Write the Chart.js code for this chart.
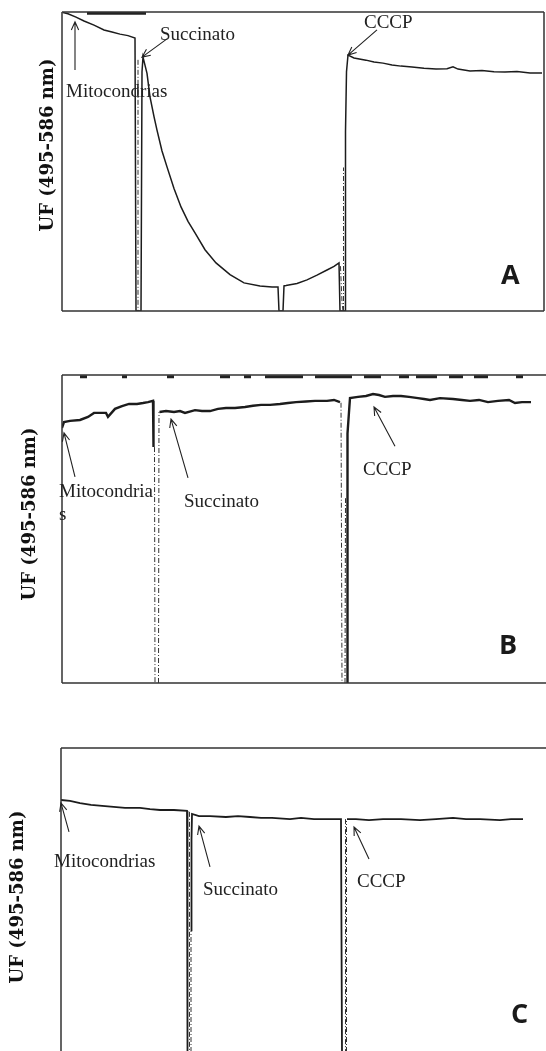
<!DOCTYPE html>
<html>
<head>
<meta charset="utf-8">
<script src="https://cdn.jsdelivr.net/npm/chart.js@4.4.0/dist/chart.umd.min.js"></script>
<style>
  html, body { margin: 0; padding: 0; background: #fff; overflow: hidden; }
  body { width: 546px; height: 1051px; position: relative; }
  canvas { position: absolute; left: 0; }
</style>
</head>
<body>
<canvas id="chartA" width="546" height="330" style="top:0"></canvas>
<canvas id="chartB" width="546" height="340" style="top:360px"></canvas>
<canvas id="chartC" width="546" height="332" style="top:720px"></canvas>
<script>
// --- panel A: fluorescence trace (time in arbitrary units, signal in % of scale)
const timeA = [1, 6, 14, 22, 32, 42, 50, 58, 66, 73, 74, 79, 80, 81, 85, 88, 92, 95, 100, 105,
  112, 119, 126, 133, 143, 154, 168, 182, 198, 210, 216, 217, 221, 222, 224, 235, 245, 255, 265, 272,
  277, 278, 283, 283.5, 284.5, 286, 292, 304, 312, 321, 330, 339, 350, 362, 374, 385, 391, 396, 408, 420,
  432, 443, 455, 468, 480];
const signalA = [99.8, 99.4, 98.3, 97.0, 95.6, 94.0, 93.3, 92.6, 92.1, 91.3, 0, 0, 80, 84.9, 79.5, 71.6, 65.0, 60.5, 53.5, 48.2,
  41.0, 34.8, 30.0, 26.1, 20.5, 16.1, 12.2, 9.4, 8.4, 8.0, 8.0, 0, 0, 8.4, 8.5, 9.2, 10.4, 12.0, 13.7, 14.9,
  16.1, 0, 0, 60, 80, 85.6, 84.6, 83.9, 83.3, 82.9, 82.3, 81.9, 81.6, 81.2, 80.9, 81.0, 81.7, 80.9, 80.3, 80.4,
  80.0, 79.9, 80.1, 79.6, 79.6];
const dashTimeA = [76, 76, 76, 278.5, 280, 281, 281, 281.5, 281.5];
const dashSignalA = [84, 0, null, 15, 3, 0, null, 0, 48];
const topTimeA = [25, 84];
const topSignalA = [99.6, 99.6];

// --- panel B
const timeB = [0, 2, 8, 18, 26, 32, 44, 46, 53, 60, 67, 75, 81, 86, 91, 91.5, 91.5, 97.5, 104, 112,
  118, 123, 133, 140, 148, 156, 164, 173, 183, 191, 199, 208, 218, 226, 234, 244, 253, 265, 272, 278,
  278, 285, 285.5, 287, 288, 296, 304, 311, 317, 323, 331, 339, 347, 356, 362, 368, 378, 391, 400, 408,
  417, 426, 436, 447, 453, 460, 469];
const signalB = [82.8, 84.7, 85.1, 85.4, 86.4, 87.7, 87.7, 86.4, 89.0, 89.9, 90.6, 90.6, 90.9, 91.2, 91.6, 76.6, null, 88.0, 88.3, 88.0,
  88.3, 87.7, 88.6, 88.3, 88.3, 89.0, 89.3, 89.3, 89.6, 90.0, 90.3, 90.3, 90.6, 90.9, 91.2, 91.4, 91.6, 91.6, 91.9, 91.2,
  null, 0, 81, 88, 92.5, 92.9, 93.2, 93.8, 93.5, 92.9, 93.2, 93.2, 92.9, 92.5, 92.2, 91.9, 92.5, 92.2, 91.9, 91.6,
  91.9, 91.2, 91.6, 91.9, 90.9, 91.2, 91.2];
const dashTimeB = [92.5, 93, 93, 96.5, 97, 97, 279, 280, 280, 283, 283.5];
const dashSignalB = [76.6, 0, null, 0, 88, null, 91, 0, null, 0, 60];
const topTimeB = [18, 25, 25, 60, 65, 65, 105, 112, 112, 158, 168, 168, 182, 189, 189, 203, 241, 241, 253, 290, 290,
  302, 319, 319, 337, 347, 347, 354, 375, 375, 387, 401, 401, 412, 426, 426, 454, 461];
const topSignalB = [99.4, 99.4, null, 99.4, 99.4, null, 99.4, 99.4, null, 99.4, 99.4, null, 99.4, 99.4, null, 99.4, 99.4, null, 99.4, 99.4, null,
  99.4, 99.4, null, 99.4, 99.4, null, 99.4, 99.4, null, 99.4, 99.4, null, 99.4, 99.4, null, 99.4, 99.4];

// --- panel C
const timeC = [0, 9, 19, 30, 44, 64, 79, 89, 99, 113, 126, 126.5, 126.5, 130, 130.5, 131, 138, 149, 165, 177,
  189, 200, 211, 229, 240, 253, 269, 280, 281, 281, 286, 295, 308, 322, 340, 359, 375, 392, 405, 419,
  439, 450, 462];
const signalC = [82.9, 82.6, 81.9, 81.3, 80.9, 80.3, 80.3, 79.9, 79.6, 79.6, 79.3, 0, null, 40, 70, 78.3, 77.6, 77.6, 77.3, 77.6,
  77.3, 77.0, 77.0, 76.6, 77.0, 76.6, 76.6, 76.6, 0, null, 76.6, 76.6, 76.3, 76.6, 76.6, 76.3, 76.6, 77.0, 76.6, 76.6,
  76.3, 76.6, 76.6];
const dashTimeC = [128.5, 128.5, 128.5, 130, 130, 130, 284.5, 284.5, 284.5, 285.5, 285.5];
const dashSignalC = [79, 0, null, 0, 40, null, 76.6, 0, null, 0, 76];

const yTitle = 'UF (495-586 nm)';
const additions = ['Mitocondrias', 'Succinato', 'CCCP'];

const INK = '#1c1c1c';
const SERIF = '19px "Liberation Serif", serif';

function pts(xs, ys) {
  return xs.map((x, i) => ({ x, y: ys[i] }));
}

function arrow(ctx, x1, y1, x2, y2) {
  const a = Math.atan2(y2 - y1, x2 - x1);
  const len = 9, spread = 0.42;
  ctx.beginPath();
  ctx.moveTo(x1, y1);
  ctx.lineTo(x2, y2);
  ctx.moveTo(x2 - len * Math.cos(a - spread), y2 - len * Math.sin(a - spread));
  ctx.lineTo(x2, y2);
  ctx.lineTo(x2 - len * Math.cos(a + spread), y2 - len * Math.sin(a + spread));
  ctx.stroke();
}

// draws frame, axis title, annotations and panel letter
function decor(cfg) {
  return {
    id: 'decor',
    afterDraw(chart) {
      const { ctx, chartArea: ca, scales } = chart;
      const px = v => scales.x.getPixelForValue(v);
      const py = v => scales.y.getPixelForValue(v);
      ctx.save();
      ctx.strokeStyle = '#333';
      ctx.lineWidth = 1.5;
      ctx.beginPath();
      if (cfg.sides.includes('t')) { ctx.moveTo(ca.left, ca.top); ctx.lineTo(ca.right, ca.top); }
      if (cfg.sides.includes('l')) { ctx.moveTo(ca.left, ca.top); ctx.lineTo(ca.left, ca.bottom); }
      if (cfg.sides.includes('b')) { ctx.moveTo(ca.left, ca.bottom); ctx.lineTo(ca.right, ca.bottom); }
      if (cfg.sides.includes('r')) { ctx.moveTo(ca.right, ca.top); ctx.lineTo(ca.right, ca.bottom); }
      ctx.stroke();

      // y title
      ctx.fillStyle = '#111';
      ctx.font = 'bold 18px "DejaVu Serif", serif';
      ctx.textAlign = 'center';
      ctx.textBaseline = 'middle';
      ctx.translate(ca.left - cfg.titleDx, ca.top + cfg.titleDy);
      ctx.rotate(-Math.PI / 2);
      ctx.fillText(yTitle, 0, 0);
      ctx.setTransform(1, 0, 0, 1, 0, 0);

      // annotations
      ctx.font = SERIF;
      ctx.textAlign = 'left';
      ctx.textBaseline = 'alphabetic';
      ctx.fillStyle = '#222';
      cfg.notes.forEach(n => ctx.fillText(n.text, px(n.x), py(n.y)));
      ctx.strokeStyle = '#222';
      ctx.lineWidth = 1.1;
      cfg.arrows.forEach(a => arrow(ctx, px(a[0]), py(a[1]), px(a[2]), py(a[3])));

      // panel letter
      ctx.font = 'bold 27px "Open Sans", sans-serif';
      ctx.fillStyle = '#1a1a1a';
      ctx.fillText(cfg.letter, px(cfg.letterAt[0]), py(cfg.letterAt[1]));
      ctx.restore();
    }
  };
}

function makeChart(id, xMax, padding, traces, width, cfg) {
  const datasets = [
    { data: pts(traces[0], traces[1]), borderColor: INK, borderWidth: width, spanGaps: false },
    { data: pts(traces[2], traces[3]), borderColor: '#333', borderWidth: 1, borderDash: [5, 2, 1, 2], spanGaps: false }
  ];
  if (traces[4]) {
    datasets.push({ data: pts(traces[4], traces[5]), borderColor: '#222', borderWidth: 3, spanGaps: false });
  }
  datasets.forEach(d => { d.pointRadius = 0; d.tension = 0; d.fill = false; });
  return new Chart(document.getElementById(id), {
    type: 'line',
    data: { datasets },
    options: {
      responsive: false,
      animation: false,
      layout: { padding },
      plugins: { legend: { display: false }, tooltip: { enabled: false } },
      scales: {
        x: { type: 'linear', min: 0, max: xMax, display: false },
        y: { min: 0, max: 100, display: false }
      }
    },
    plugins: [decor(cfg)]
  });
}

makeChart('chartA', 482, { left: 62, top: 12, right: 2, bottom: 19 },
  [timeA, signalA, dashTimeA, dashSignalA, topTimeA, topSignalA], 1.5, {
    sides: 'tlbr', titleDx: 14, titleDy: 133, letter: 'A', letterAt: [439, 9.0],
    notes: [
      { text: additions[0], x: 4, y: 71.6 },
      { text: additions[1], x: 98, y: 90.6 },
      { text: additions[2], x: 302, y: 94.6 }
    ],
    arrows: [[13, 80.6, 13, 96.7], [105, 91.0, 80, 84.9], [315, 94.0, 286, 85.6]]
  });

makeChart('chartB', 484, { left: 62, top: 15, right: 0, bottom: 17 },
  [timeB, signalB, dashTimeB, dashSignalB, topTimeB, topSignalB], 2.4, {
    sides: 'tlb', titleDx: 32, titleDy: 139, letter: 'B', letterAt: [437, 9.4],
    notes: [
      { text: additions[0].slice(0, -1), x: -3, y: 60.4 },
      { text: 's', x: -3, y: 52.9 },
      { text: additions[1], x: 122, y: 57.1 },
      { text: additions[2], x: 301, y: 67.5 }
    ],
    arrows: [[13, 66.9, 2, 81.2], [126, 66.6, 109, 85.7], [333, 76.9, 312, 89.6]]
  });

makeChart('chartC', 485, { left: 61, top: 28, right: 0, bottom: 0 },
  [timeC, signalC, dashTimeC, dashSignalC], 1.8, {
    sides: 'tl', titleDx: 43, titleDy: 149, letter: 'C', letterAt: [450, 9.5],
    notes: [
      { text: additions[0], x: -7, y: 60.9 },
      { text: additions[1], x: 142, y: 51.6 },
      { text: additions[2], x: 296, y: 54.3 }
    ],
    arrows: [[8, 72.4, 0, 81.9], [149, 60.9, 138, 74.3], [308, 63.5, 293, 74.0]]
  });
</script>
</body>
</html>
